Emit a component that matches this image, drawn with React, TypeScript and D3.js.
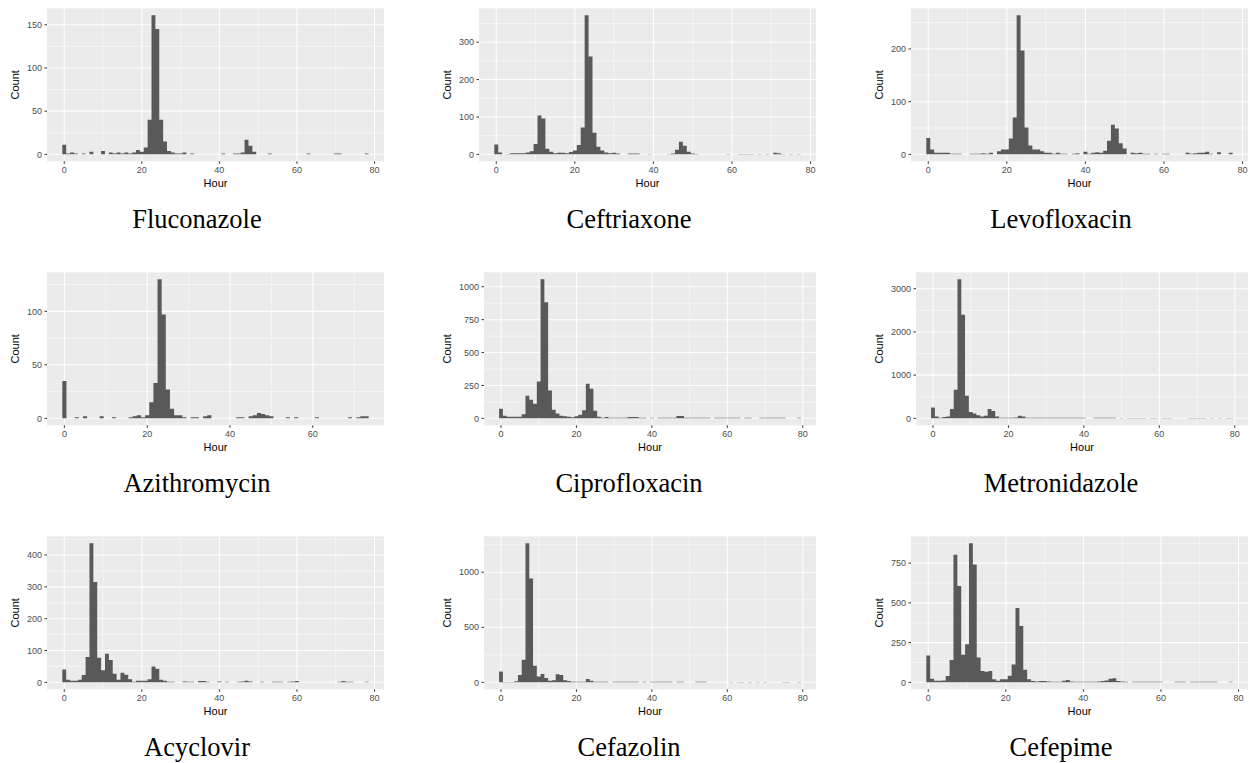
import React from "react";
import * as d3 from "d3";

// ---------- data ----------
const titles = [
  "Fluconazole", "Ceftriaxone", "Levofloxacin",
  "Azithromycin", "Ciprofloxacin", "Metronidazole",
  "Acyclovir", "Cefazolin", "Cefepime",
];

// counts per hour bin (bin centred on hour 0, 1, 2, ...)
const fluconazole = [
  11, 1, 2, 1, 0, 1, 0, 3, 0, 0,
  4, 0, 2, 1, 2, 1, 2, 1, 2, 5,
  3, 8, 40, 161, 145, 40, 15, 4, 2, 1,
  1, 2, 0, 1, 0, 0, 0, 0, 0, 0,
  0, 1, 0, 0, 1, 1, 2, 17, 10, 3,
  0, 0, 0, 1, 0, 0, 0, 0, 0, 0,
  0, 0, 0, 1, 0, 0, 0, 0, 0, 0,
  1, 1, 0, 0, 0, 0, 0, 0, 1,
];
const ceftriaxone = [
  26, 5, 0, 1, 3, 3, 3, 3, 5, 8,
  28, 104, 96, 15, 7, 3, 4, 4, 3, 6,
  10, 25, 72, 372, 262, 58, 20, 10, 5, 3,
  4, 2, 0, 0, 2, 2, 2, 0, 0, 1,
  0, 0, 0, 0, 1, 2, 12, 34, 23, 7,
  2, 1, 0, 0, 0, 0, 0, 0, 0, 1,
  0, 0, 1, 1, 1, 1, 0, 1, 0, 1,
  0, 4, 3, 1, 0, 1, 0, 1,
];
const levofloxacin = [
  31, 9, 3, 3, 3, 3, 1, 1, 1, 0,
  0, 1, 1, 1, 2, 1, 3, 0, 6, 9,
  9, 30, 70, 264, 197, 51, 17, 9, 9, 6,
  3, 3, 1, 3, 1, 1, 0, 1, 2, 0,
  5, 1, 3, 4, 3, 7, 26, 56, 49, 21,
  11, 0, 3, 2, 3, 1, 1, 0, 1, 0,
  1, 1, 0, 0, 0, 0, 3, 1, 2, 3,
  3, 5, 1, 0, 4, 0, 0, 3,
];
const azithromycin = [
  35, 0, 0, 1, 0, 2, 0, 0, 0, 2,
  0, 0, 1, 0, 0, 0, 1, 2, 3, 1,
  3, 15, 33, 130, 97, 27, 9, 3, 3, 1,
  0, 1, 1, 0, 2, 3, 0, 0, 0, 0,
  0, 0, 1, 1, 0, 2, 3, 5, 4, 3,
  2, 0, 0, 0, 1, 0, 1, 0, 0, 0,
  0, 1, 0, 0, 0, 0, 0, 0, 0, 1,
  0, 1, 2, 2,
];
const ciprofloxacin = [
  72, 19, 12, 12, 12, 12, 32, 171, 141, 110,
  280, 1057, 882, 211, 66, 36, 20, 15, 13, 8,
  15, 28, 62, 263, 224, 57, 12, 5, 10, 5,
  5, 5, 5, 5, 10, 10, 10, 4, 4, 0,
  4, 0, 5, 5, 5, 5, 5, 18, 18, 5,
  5, 5, 5, 5, 5, 5, 0, 4, 4, 4,
  4, 4, 4, 4, 0, 4, 4, 0, 0, 4,
  4, 4, 4, 4, 4, 4, 0, 0, 0, 4,
];
const metronidazole = [
  250, 40, 15, 30, 40, 219, 664, 3219, 2398, 523,
  148, 110, 70, 40, 58, 219, 172, 40, 15, 12,
  12, 12, 20, 62, 40, 14, 14, 14, 14, 14,
  14, 14, 14, 14, 14, 14, 14, 14, 14, 14,
  12, 0, 0, 12, 12, 12, 12, 12, 12, 0,
  10, 0, 10, 10, 10, 10, 10, 0, 10, 10,
  0, 10, 10, 10, 0, 0, 0, 0, 10, 10,
  10, 10, 10, 0, 10, 0, 10, 0, 10, 10,
];
const acyclovir = [
  40, 8, 5, 5, 8, 23, 80, 437, 315, 77,
  38, 90, 70, 27, 8, 30, 24, 10, 2, 5,
  5, 5, 10, 50, 43, 8, 5, 2, 2, 0,
  0, 3, 2, 2, 0, 4, 4, 2, 0, 0,
  3, 0, 2, 0, 0, 2, 3, 5, 3, 0,
  0, 2, 0, 0, 2, 2, 2, 0, 2, 3,
  4, 0, 0, 0, 0, 0, 0, 0, 0, 0,
  0, 2, 4, 2, 2, 0, 0, 0, 2,
];
const cefazolin = [
  98, 3, 3, 3, 10, 67, 205, 1263, 942, 150,
  52, 76, 40, 15, 20, 73, 67, 20, 12, 6,
  6, 6, 6, 30, 15, 6, 6, 6, 6, 0,
  6, 6, 6, 6, 6, 6, 6, 0, 5, 0,
  5, 5, 5, 5, 5, 5, 0, 5, 5, 0,
  0, 0, 5, 5, 5, 0, 0, 0, 0, 0,
  0, 4, 0, 4, 4, 0, 4, 0, 4, 0,
  4, 0, 0, 0, 0, 4, 4, 0, 0, 4,
];
const cefepime = [
  169, 23, 10, 10, 12, 40, 140, 803, 606, 174,
  239, 875, 742, 157, 72, 66, 72, 20, 10, 20,
  20, 42, 112, 468, 354, 80, 20, 8, 5, 8,
  8, 5, 4, 4, 4, 10, 15, 5, 4, 4,
  4, 4, 4, 4, 5, 8, 12, 22, 25, 8,
  5, 4, 0, 4, 4, 4, 4, 4, 4, 4,
  4, 0, 0, 0, 4, 4, 4, 0, 4, 4,
  4, 4, 4, 4, 4, 0, 0, 0, 4,
];

const xTicks = [0, 20, 40, 60, 80];
const yTicksFluconazole = [0, 50, 100, 150];
const yTicksCeftriaxone = [0, 100, 200, 300];
const yTicksLevofloxacin = [0, 100, 200];
const yTicksAzithromycin = [0, 50, 100];
const yTicksCiprofloxacin = [0, 250, 500, 750, 1000];
const yTicksMetronidazole = [0, 1000, 2000, 3000];
const yTicksAcyclovir = [0, 100, 200, 300, 400];
const yTicksCefazolin = [0, 500, 1000];
const yTicksCefepime = [0, 250, 500, 750];

const seriesList = [
  fluconazole, ceftriaxone, levofloxacin,
  azithromycin, ciprofloxacin, metronidazole,
  acyclovir, cefazolin, cefepime,
];
const yTickList = [
  yTicksFluconazole, yTicksCeftriaxone, yTicksLevofloxacin,
  yTicksAzithromycin, yTicksCiprofloxacin, yTicksMetronidazole,
  yTicksAcyclovir, yTicksCefazolin, yTicksCefepime,
];

// ---------- styling ----------
const SANS = "'Liberation Sans', Arial, Helvetica, sans-serif";
const SERIF = "'Liberation Serif', 'Times New Roman', serif";
const PANEL_BG = "#EBEBEB";
const BAR = "#595959";

function minorBreaks(majors: number[], lo: number, hi: number) {
  const step = majors[1] - majors[0];
  const out: number[] = [];
  for (let v = majors[0] - step / 2; v <= majors[majors.length - 1] + step / 2 + 1e-9; v += step) {
    if (v >= lo && v <= hi) out.push(v);
  }
  return out;
}

function Panel({ idx }: { idx: number }) {
  const col = idx % 3;
  const row = Math.floor(idx / 3);
  const counts = seriesList[idx];
  const yTicks = yTickList[idx];
  const ox = col * 432;
  const oy = row * 264;
  const digits = d3.max(yTicks, (t) => String(t).length) as number;
  const left = ox + 47 + (digits - 3) * 5;
  const right = ox + 384;
  const top = oy + 8.3;
  const bottom = oy + 161.3;

  const n = counts.length;
  const lo = -0.5, hi = n - 0.5;
  const ex = (hi - lo) * 0.05;
  const x = d3.scaleLinear().domain([lo - ex, hi + ex]).range([left, right]);
  const ymax = d3.max(counts) as number;
  const y = d3.scaleLinear().domain([-0.05 * ymax, 1.05 * ymax]).range([bottom, top]);

  const [xd0, xd1] = x.domain();
  const [yd0, yd1] = y.domain();
  const xMajor = xTicks.filter((t) => t >= xd0 && t <= xd1);
  const xMinor = minorBreaks(xMajor, xd0, xd1);
  const yMajor = yTicks.filter((t) => t >= yd0 && t <= yd1);
  const yMinor = minorBreaks(yMajor, yd0, yd1);

  const p = d3.path();
  counts.forEach((v, i) => {
    if (v <= 0) return;
    const x0 = x(i - 0.5), x1 = x(i + 0.5);
    p.rect(x0, y(v), x1 - x0, y(0) - y(v));
  });

  return (
    <g>
      <rect x={left} y={top} width={right - left} height={bottom - top} fill={PANEL_BG} />
      {yMinor.map((t) => (
        <line key={"ym" + t} x1={left} x2={right} y1={y(t)} y2={y(t)} stroke="#fff" strokeWidth={0.5} />
      ))}
      {xMinor.map((t) => (
        <line key={"xm" + t} x1={x(t)} x2={x(t)} y1={top} y2={bottom} stroke="#fff" strokeWidth={0.5} />
      ))}
      {yMajor.map((t) => (
        <line key={"yM" + t} x1={left} x2={right} y1={y(t)} y2={y(t)} stroke="#fff" strokeWidth={1.05} />
      ))}
      {xMajor.map((t) => (
        <line key={"xM" + t} x1={x(t)} x2={x(t)} y1={top} y2={bottom} stroke="#fff" strokeWidth={1.05} />
      ))}
      <path d={p.toString()} fill={BAR} />
      {yMajor.map((t) => (
        <g key={"yt" + t}>
          <line x1={left - 2.5} x2={left} y1={y(t)} y2={y(t)} stroke="#333" strokeWidth={1} />
          <text x={left - 5} y={y(t) + 3.2} textAnchor="end" fontFamily={SANS} fontSize={9} fill="#4D4D4D">
            {t}
          </text>
        </g>
      ))}
      {xMajor.map((t) => (
        <g key={"xt" + t}>
          <line x1={x(t)} x2={x(t)} y1={bottom} y2={bottom + 2.5} stroke="#333" strokeWidth={1} />
          <text x={x(t)} y={bottom + 11.2} textAnchor="middle" fontFamily={SANS} fontSize={9} fill="#4D4D4D">
            {t}
          </text>
        </g>
      ))}
      <text x={(left + right) / 2} y={oy + 187} textAnchor="middle" fontFamily={SANS} fontSize={11} fill="#000">
        Hour
      </text>
      <text
        transform={`translate(${ox + 19.3},${(top + bottom) / 2}) rotate(-90)`}
        textAnchor="middle"
        fontFamily={SANS}
        fontSize={11}
        fill="#000"
      >
        Count
      </text>
      <text x={ox + 197} y={oy + 228.3} textAnchor="middle" fontFamily={SERIF} fontSize={26.5} fill="#000">
        {titles[idx]}
      </text>
    </g>
  );
}

export default function App() {
  return (
    <svg
      width={1249}
      height={763}
      style={{ position: "absolute", left: 0, top: 0, background: "#fff" }}
    >
      <rect x={0} y={0} width={1249} height={763} fill="#fff" />
      {titles.map((_, i) => (
        <Panel key={i} idx={i} />
      ))}
    </svg>
  );
}
